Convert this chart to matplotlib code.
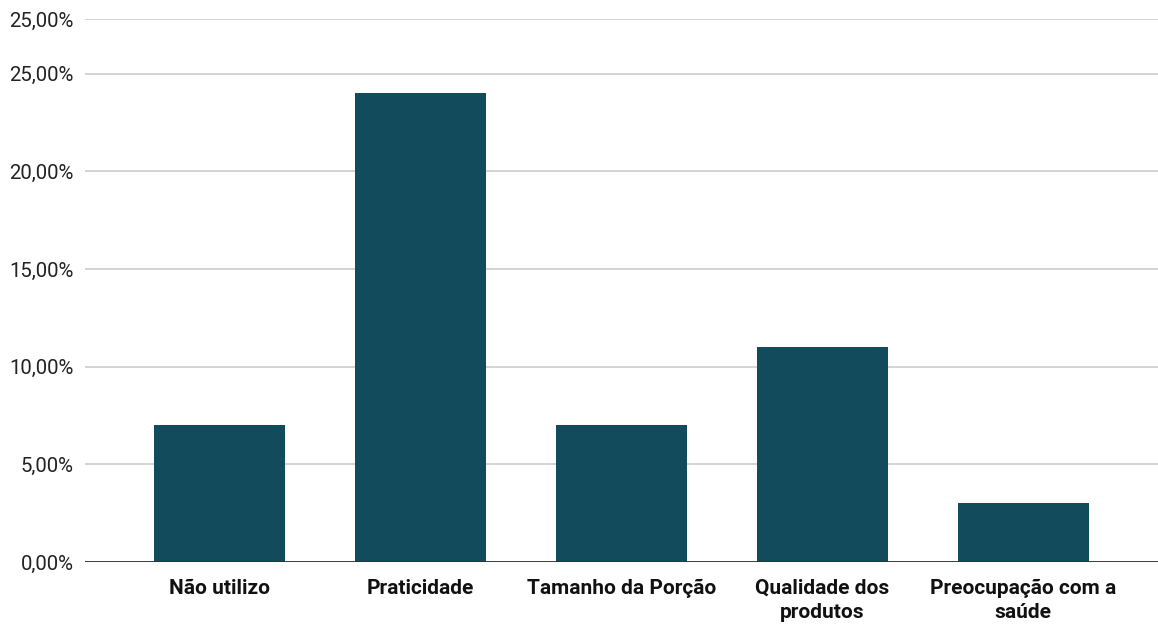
import matplotlib.pyplot as plt
import numpy as np

categories = ['Não utilizo', 'Praticidade', 'Tamanho da Porção',
              'Qualidade dos\nprodutos', 'Preocupação com a\nsaúde']
values = [7, 24, 7, 11, 3]

# y ticks (the top gridline carries a repeated 25,00% label in the original)
tick_values = [0, 5, 10, 15, 20, 25, 27.8]
tick_labels = ['0,00%', '5,00%', '10,00%', '15,00%', '20,00%', '25,00%', '25,00%']

plt.rcParams['font.family'] = ['Roboto', 'DejaVu Sans']

fig = plt.figure(figsize=(11.58, 6.26), dpi=100)
ax = fig.add_axes([85 / 1158, 64 / 626, 1 - 85 / 1158, (562 - 19) / 626])

index = np.arange(len(categories))
ax.bar(index, values, 0.65, color='#124b5b', zorder=3)

ax.set_xlim(-0.67, len(categories) - 0.33)
ax.set_ylim(0, 27.8)
ax.set_yticks(tick_values)
ax.set_yticklabels(tick_labels)
ax.set_xticks(index)
ax.set_xticklabels(categories, fontweight='bold', linespacing=1.35)

ax.grid(axis='y', color='#cccccc', linewidth=1.2, zorder=0)
ax.axhline(0, color='#333333', linewidth=1.3, zorder=4)
for s in ax.spines.values():
    s.set_visible(False)
ax.tick_params(axis='y', length=0, pad=8, labelsize=14.7, labelcolor='#222222')
ax.tick_params(axis='x', length=0, pad=12, labelsize=15, labelcolor='#111111')

fig.savefig('out.png', dpi=100)
